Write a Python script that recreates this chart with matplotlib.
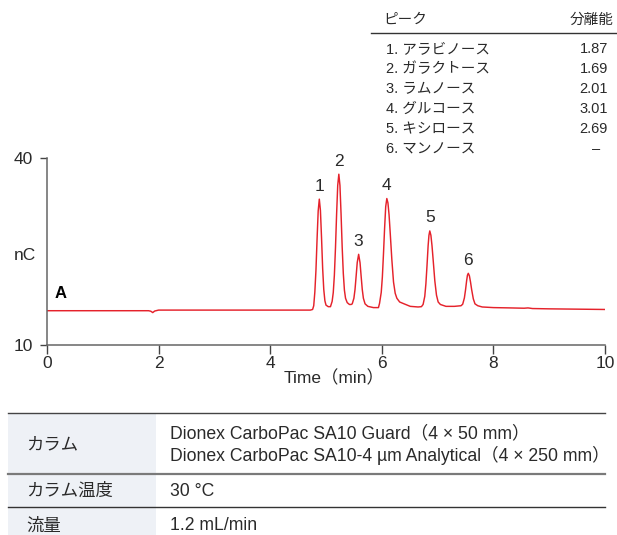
import matplotlib
matplotlib.use("Agg")
import matplotlib.pyplot as plt
from matplotlib.lines import Line2D
from matplotlib.patches import Rectangle

plt.rcParams['font.family'] = ['Liberation Sans', 'Noto Sans CJK JP']

# ---------------- data ----------------
time_min = [0.0, 1.0, 1.82, 1.86, 1.895, 1.93, 2.0, 3.0, 4.0, 4.72, 4.76,
            4.78, 4.80, 4.82, 4.84, 4.86, 4.88, 4.90, 4.92, 4.94, 4.96, 4.98, 5.00, 5.04, 5.08,
            5.11, 5.13, 5.15, 5.17, 5.19, 5.21, 5.23, 5.25, 5.27, 5.29, 5.31, 5.33, 5.35, 5.38, 5.42, 5.45,
            5.47, 5.50, 5.52, 5.54, 5.56, 5.585, 5.61, 5.63, 5.65, 5.67, 5.70, 5.75, 5.85, 5.94,
            5.96, 5.99, 6.01, 6.03, 6.05, 6.07, 6.09, 6.11, 6.13, 6.15, 6.18, 6.21, 6.24, 6.27, 6.32,
            6.40, 6.51, 6.65, 6.71,
            6.74, 6.77, 6.79, 6.81, 6.83, 6.845, 6.86, 6.88, 6.90, 6.92, 6.95, 6.98, 7.01, 7.05, 7.15, 7.30,
            7.42, 7.45, 7.48, 7.50, 7.52, 7.535, 7.55, 7.57, 7.59, 7.61, 7.64, 7.67, 7.72, 7.80,
            8.0, 8.3, 8.55, 8.62, 8.7, 9.0, 10.0]
signal_nC = [15.5, 15.5, 15.5, 15.42, 15.2, 15.45, 15.6, 15.6, 15.6, 15.6, 15.7,
             16.3, 18.5, 22.0, 27.0, 31.5, 33.4, 31.6, 27.2, 22.3, 18.9, 17.1, 16.4, 16.15, 16.15,
             17.0, 18.4, 21.2, 25.6, 31.0, 35.6, 37.4, 35.6, 31.0, 25.7, 21.5, 18.8, 17.5, 16.8, 16.5, 16.5,
             16.6, 17.5, 18.9, 21.05, 23.25, 24.55, 23.2, 21.0, 18.9, 17.5, 16.6, 16.2, 16.0, 16.0,
             16.7, 18.45, 20.9, 24.6, 28.7, 32.2, 33.5, 32.8, 30.9, 28.1, 23.7, 20.1, 18.3, 17.5, 16.9,
             16.6, 16.2, 16.1, 16.15,
             16.5, 17.8, 19.8, 22.7, 25.9, 27.6, 28.3, 27.6, 25.9, 23.7, 20.3, 18.0, 16.9, 16.5, 16.2, 16.2,
             16.3, 16.55, 17.55, 18.8, 20.3, 21.2, 21.5, 21.1, 20.1, 18.9, 17.4, 16.6, 16.3, 16.1,
             16.0, 15.95, 15.9, 15.95, 15.85, 15.8, 15.7]

peak_labels = ['1', '2', '3', '4', '5', '6']
peak_times = [4.88, 5.23, 5.585, 6.09, 6.86, 7.55]
peak_heights = [33.4, 37.4, 24.55, 33.5, 28.3, 21.5]

x_ticks = [0, 2, 4, 6, 8, 10]
y_ticks = [10, 40]

table_header = ['ピーク', '分離能']
compounds = ['アラビノース', 'ガラクトース', 'ラムノース', 'グルコース', 'キシロース', 'マンノース']
resolution = ['1.87', '1.69', '2.01', '3.01', '2.69', '–']

cond_labels = ['カラム', 'カラム温度', '流量']
cond_values = ['Dionex CarboPac SA10 Guard（4 × 50 mm）\nDionex CarboPac SA10-4 µm Analytical（4 × 250 mm）',
               '30 °C', '1.2 mL/min']

# ---------------- figure ----------------
W, H = 617, 535
fig = plt.figure(figsize=(W / 100, H / 100), dpi=100)

def fx(px):
    return px / W

def fy(py):
    return 1 - py / H

TXT = '#2a2a2a'
RED = '#e5222b'

ax = fig.add_axes([fx(47), fy(345), fx(605) - fx(47), fy(158) - fy(345)])
ax.plot(time_min, signal_nC, color=RED, lw=1.05)
ax.set_xlim(0, 10)
ax.set_ylim(10, 40)
ax.set_xticks(x_ticks)
ax.set_yticks(y_ticks)
for s in ['top', 'right']:
    ax.spines[s].set_visible(False)
for s in ['left', 'bottom']:
    ax.spines[s].set_color('#666666')
    ax.spines[s].set_linewidth(1.1)
ax.tick_params(axis='x', direction='out', length=6.5, width=1.0, color='#444444',
               labelsize=12.5, labelcolor=TXT, pad=1.5)
ax.tick_params(axis='y', direction='out', length=5, width=1.0, color='#444444',
               labelsize=12.5, labelcolor=TXT, pad=5)
ax.set_xlabel('Time（min）', fontsize=12.5, color=TXT)
ax.xaxis.set_label_coords((334 - 47) / 558, -0.135)

for lab, t, h in zip(peak_labels, peak_times, peak_heights):
    ax.annotate(lab, (t, h), xytext=(0, 4), textcoords='offset points',
                ha='center', va='bottom', fontsize=12.5, color=TXT)

fig.text(fx(14), fy(256), 'nC', fontsize=12.5, color=TXT, ha='left', va='center')
fig.text(fx(55), fy(294), 'A', fontsize=12, color='black', fontweight='bold',
         ha='left', va='center')

# ---------------- peak table (top right) ----------------
fig.text(fx(383), fy(20), table_header[0], fontsize=10.5, color=TXT, ha='left', va='center')
fig.text(fx(614), fy(20), table_header[1], fontsize=10.5, color=TXT, ha='right', va='center')
fig.add_artist(Line2D([fx(371), fx(617)], [fy(33), fy(33)], color='#333333', lw=1.0))
for i, (name, r) in enumerate(zip(compounds, resolution)):
    y = fy(49 + i * 20)
    fig.text(fx(386), y, f'{i + 1}. {name}', fontsize=10.5, color=TXT, ha='left', va='center')
    if r == '–':
        fig.text(fx(596), y, r, fontsize=10.5, color=TXT, ha='center', va='center')
    else:
        fig.text(fx(608), y, r, fontsize=10.5, color=TXT, ha='right', va='center')

# ---------------- conditions table (bottom) ----------------
fig.add_artist(Rectangle((fx(8), 0), fx(156) - fx(8), fy(413), color='#eef1f6', lw=0, zorder=0))
fig.add_artist(Line2D([fx(8), fx(605)], [fy(413), fy(413)], color='#444444', lw=1.0))
fig.add_artist(Line2D([fx(8), fx(605)], [fy(474), fy(474)], color='#7a7a7a', lw=1.6))
fig.add_artist(Line2D([fx(8), fx(605)], [fy(507), fy(507)], color='#333333', lw=1.0))

row_y = [445, 491, 526]
for lab, val, yy in zip(cond_labels, cond_values, row_y):
    fig.text(fx(26), fy(yy), lab, fontsize=12.5, color=TXT, ha='left', va='center')
    fig.text(fx(170), fy(yy), val, fontsize=12.7, color=TXT, ha='left', va='center',
             linespacing=1.2)

fig.savefig('out.png', dpi=100)
